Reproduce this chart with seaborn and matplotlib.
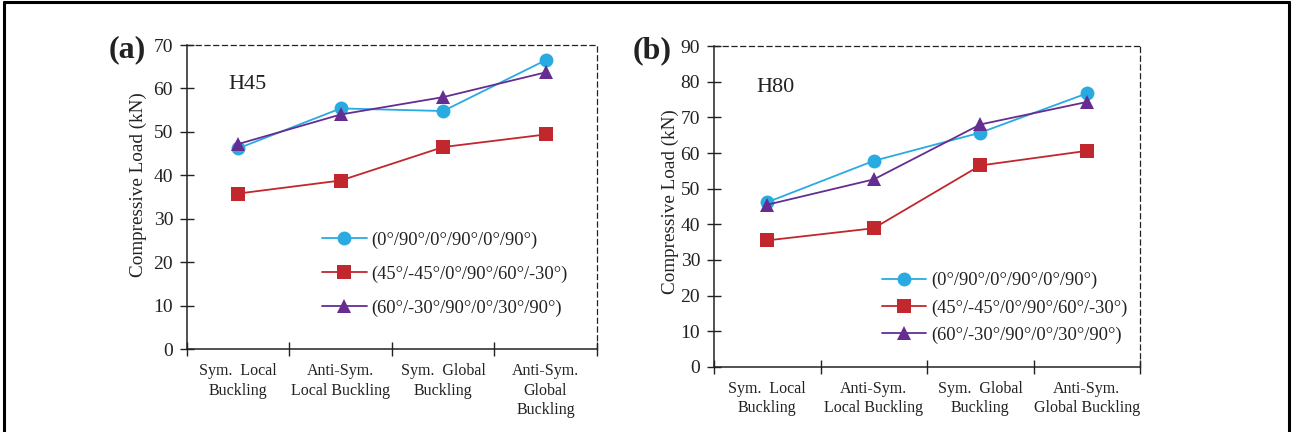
import matplotlib
matplotlib.use('Agg')
import matplotlib.pyplot as plt
from matplotlib.lines import Line2D
import numpy as np
import pandas as pd
import seaborn as sns

# categories and series
cats_a = ['Sym.  Local\nBuckling', 'Anti-Sym.\nLocal Buckling', 'Sym.  Global\nBuckling', 'Anti-Sym.\nGlobal\nBuckling']
cats_b = ['Sym.  Local\nBuckling', 'Anti-Sym.\nLocal Buckling', 'Sym.  Global\nBuckling', 'Anti-Sym.\nGlobal Buckling']
layups = ['(0°/90°/0°/90°/0°/90°)', '(45°/-45°/0°/90°/60°/-30°)', '(60°/-30°/90°/0°/30°/90°)']

h45_blue = [46.2, 55.4, 54.8, 66.5]
h45_red = [35.8, 38.8, 46.5, 49.4]
h45_purple = [47.2, 54.0, 58.0, 63.7]

h80_blue = [46.2, 57.8, 65.7, 76.7]
h80_red = [35.5, 38.9, 56.5, 60.6]
h80_purple = [45.5, 52.6, 68.0, 74.3]

colors = ['#29abe2', '#c1272d', '#662d91']
markers = ['o', 's', '^']

sns.set_style('white')
plt.rcParams['font.family'] = ['Liberation Serif', 'DejaVu Serif']


def long_df(series):
    rows = []
    for lay, vals in zip(layups, series):
        for i, v in enumerate(vals):
            rows.append({'pos': i, 'load': v, 'layup': lay})
    return pd.DataFrame(rows)


def panel(ax, series, cats, ymax, tag, name, leg_anchor, leg_space, ylab_xy):
    df = long_df(series)
    sns.lineplot(data=df, x='pos', y='load', hue='layup', style='layup',
                 palette=colors, markers=markers, dashes=False, ax=ax,
                 linewidth=1.3, markersize=10, markeredgewidth=0)
    ax.set_xlim(-0.5, len(cats) - 0.5)
    ax.set_ylim(0, ymax)
    ax.set_yticks(np.arange(0, ymax + 1, 10))
    ax.set_xticks(range(len(cats)))
    ax.set_xticklabels(cats, fontsize=11.5, color='#222222', linespacing=1.3)
    ax.set_xticks(np.arange(-0.5, len(cats), 1.0), minor=True)
    ax.tick_params(axis='x', which='major', length=0, pad=10)
    ax.tick_params(axis='x', which='minor', direction='inout', length=10, width=1,
                   bottom=True, color='#222222')
    ax.tick_params(axis='y', direction='inout', length=10, width=1, left=True,
                   labelsize=14, pad=5, color='#222222', labelcolor='#222222')
    ax.set_xlabel('')
    ax.set_ylabel('Compressive Load (kN)', fontsize=13.8, color='#222222')
    ax.yaxis.set_label_coords(*ylab_xy)
    for s in ['top', 'right']:
        ax.spines[s].set_linestyle((0, (4, 3)))
        ax.spines[s].set_linewidth(0.9)
        ax.spines[s].set_color('#222222')
    for s in ['left', 'bottom']:
        ax.spines[s].set_linewidth(1.1)
        ax.spines[s].set_color('#222222')
    ax.text(0.1, 0.87, name, transform=ax.transAxes, fontsize=16, va='center',
            color='#222222')
    ax.text(-0.19, 0.985, tag, transform=ax.transAxes, fontsize=23,
            fontweight='bold', va='center', ha='left', color='#222222')
    handles, labels = ax.get_legend_handles_labels()
    ax.legend(handles, labels, frameon=False, fontsize=13.3, loc='center left',
              bbox_to_anchor=leg_anchor, handlelength=2.4, labelspacing=leg_space,
              handletextpad=0.27, borderpad=0, borderaxespad=0,
              labelcolor='#222222')


fig = plt.figure(figsize=(12.93, 4.32), dpi=100)
ax1 = fig.add_axes([0.1446, 0.1921, 0.317, 0.7037])
ax2 = fig.add_axes([0.5522, 0.1505, 0.3295, 0.7430])

panel(ax1, [h45_blue, h45_red, h45_purple], cats_a, 70, '(a)', 'H45',
      (0.33, 0.247), 0.9, (-0.097, 0.54))
panel(ax2, [h80_blue, h80_red, h80_purple], cats_b, 90, '(b)', 'H80',
      (0.394, 0.184), 0.53, (-0.083, 0.514))

# outer frame of the figure
for xs, ys in [([0.003, 0.003], [-0.1, 0.995]), ([0.003, 0.997], [0.995, 0.995]),
               ([0.997, 0.997], [-0.1, 0.995])]:
    fig.add_artist(Line2D(xs, ys, transform=fig.transFigure, color='black', linewidth=2.2))

fig.savefig('out.png', dpi=100)
